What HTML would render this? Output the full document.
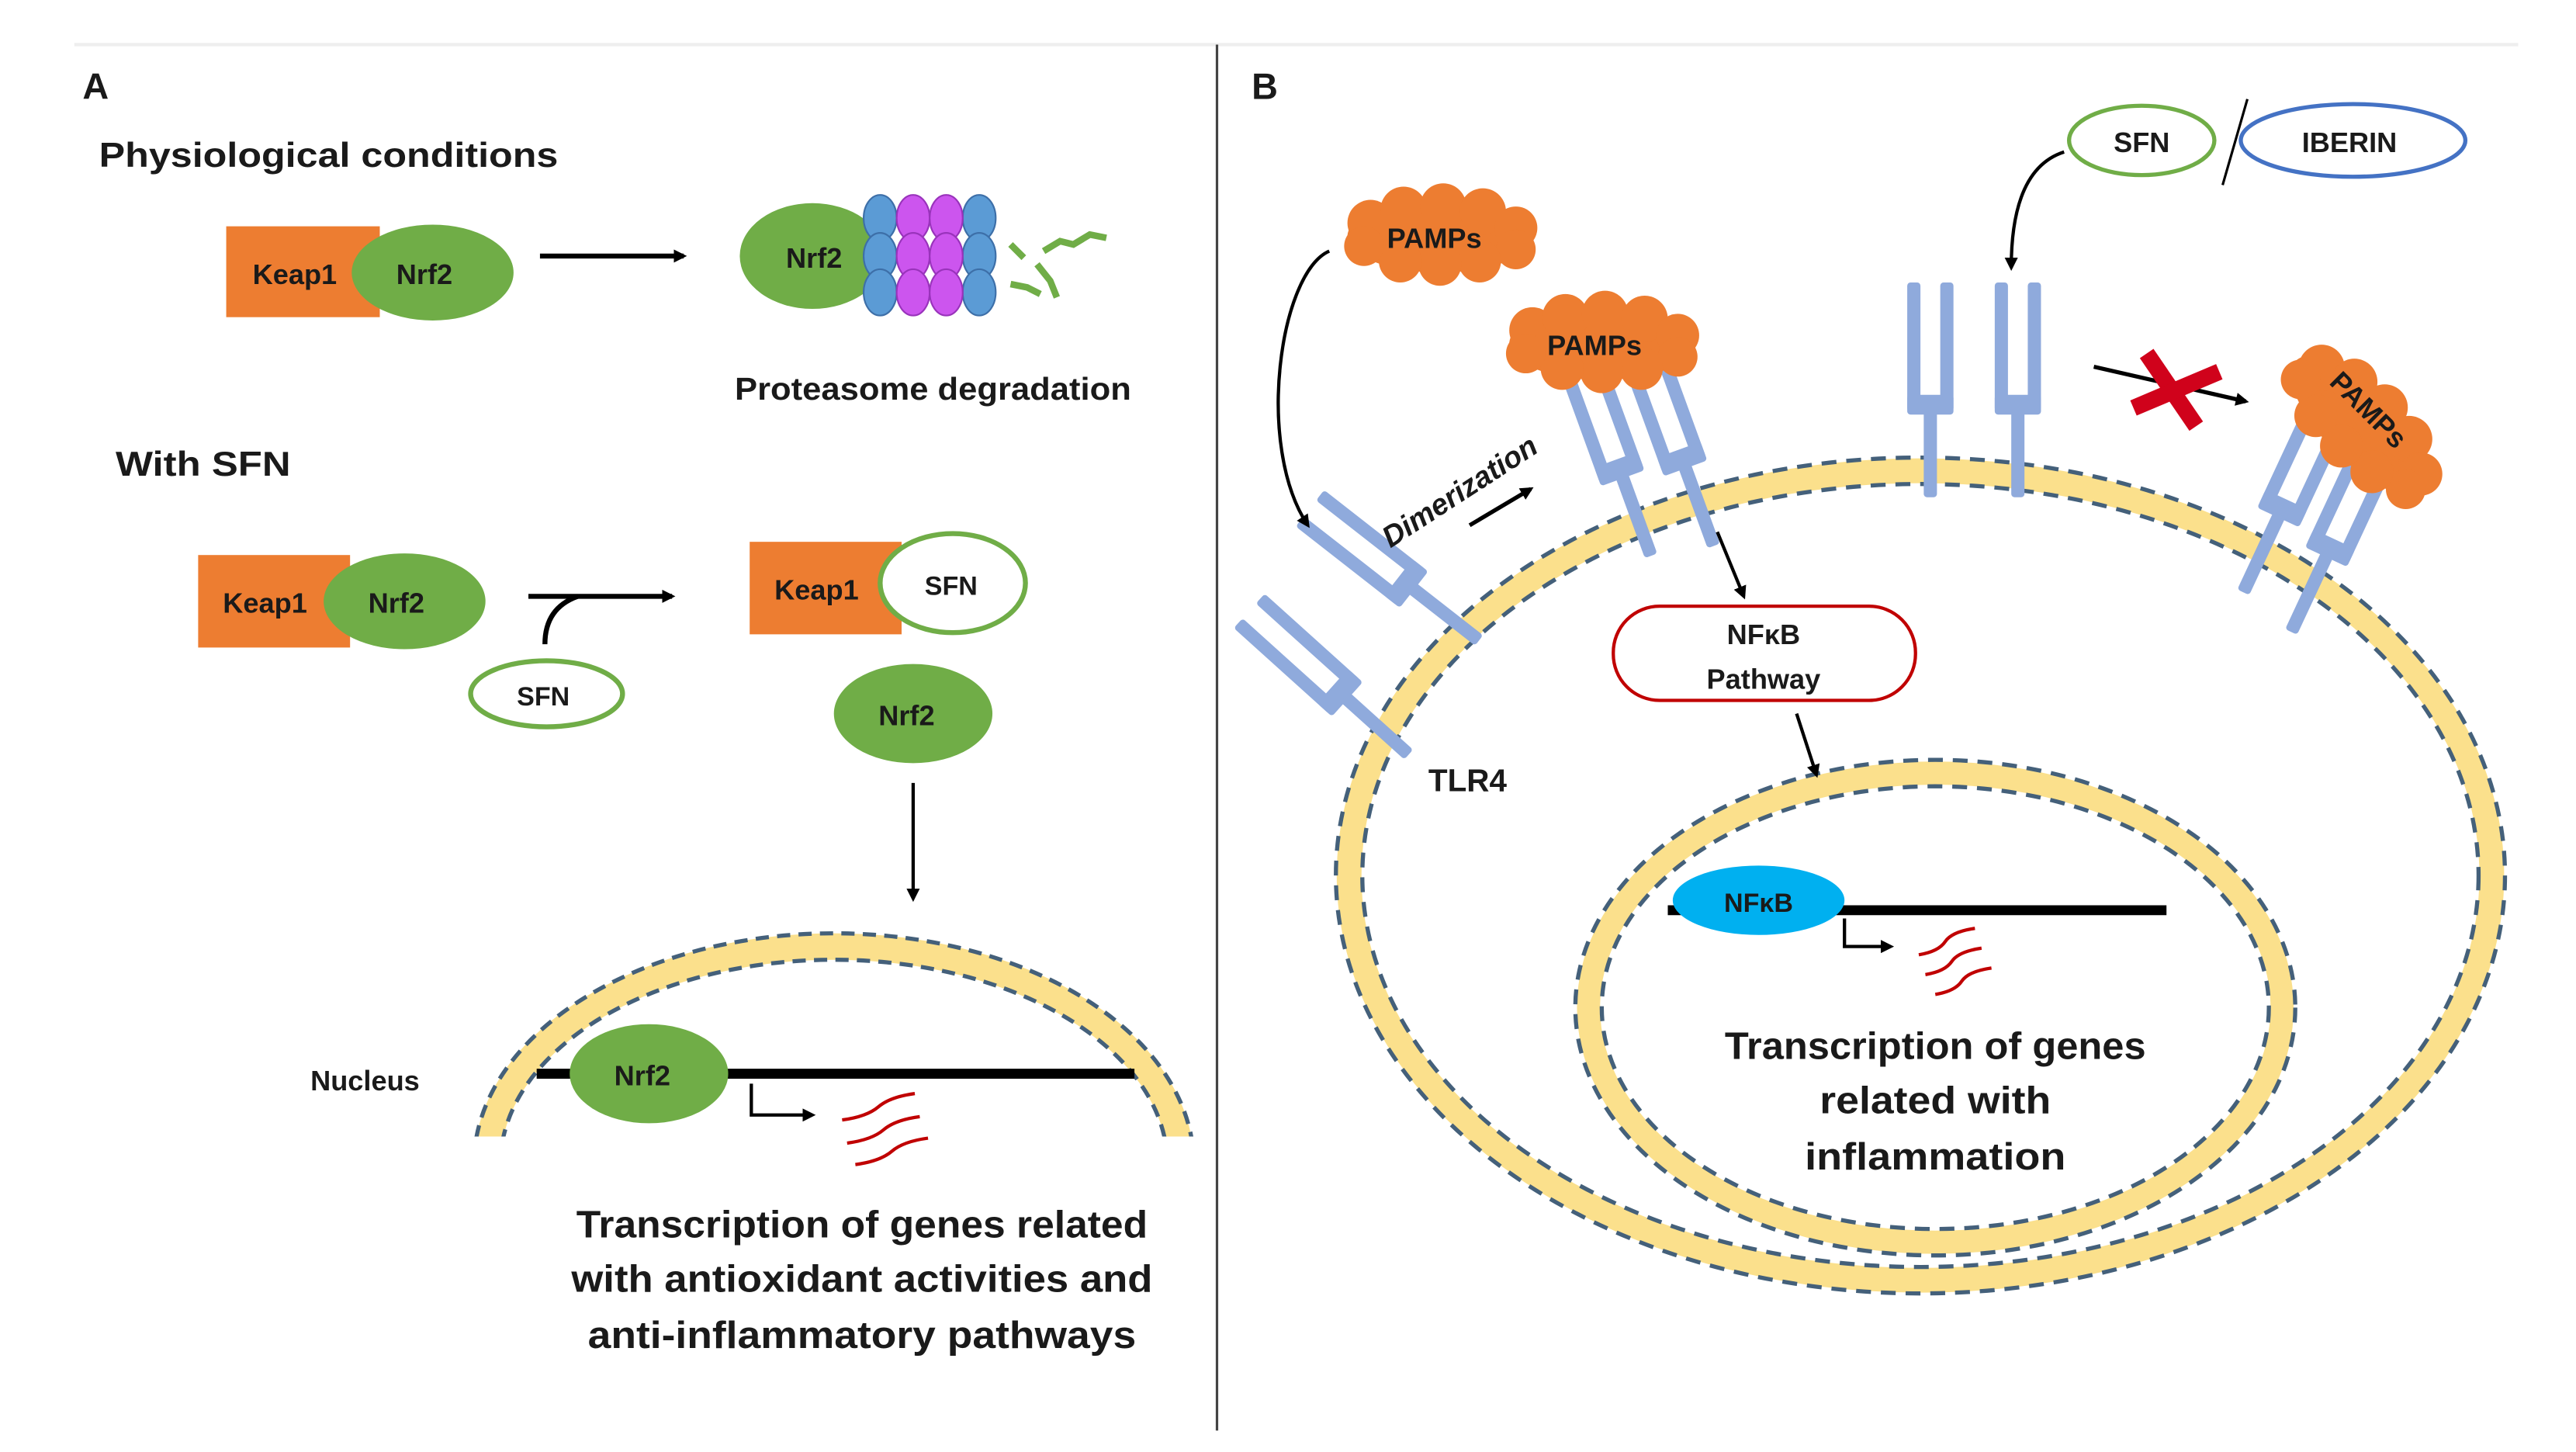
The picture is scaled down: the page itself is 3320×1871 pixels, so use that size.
<!DOCTYPE html>
<html><head><meta charset="utf-8"><style>
html,body{margin:0;padding:0;background:#fff;}
svg{display:block;}
text{font-family:"Liberation Sans",sans-serif;font-weight:bold;fill:#1a1a1a;}
</style></head><body>
<svg width="3320" height="1871" viewBox="0 0 1560 879" preserveAspectRatio="none" xmlns="http://www.w3.org/2000/svg">
<defs>
<marker id="ah" markerWidth="8" markerHeight="8" refX="6" refY="4" orient="auto" markerUnits="userSpaceOnUse"><path d="M0,0 L8,4 L0,8 Z" fill="#000"/></marker>
<g id="tlr" fill="#8FAADC">
<rect x="-14" y="-72" width="8" height="78" rx="2"/>
<rect x="6" y="-72" width="8" height="78" rx="2"/>
<rect x="-14" y="-4" width="28" height="12" rx="2"/>
<rect x="-4" y="6" width="8" height="52" rx="2"/>
</g>
<g id="cloud" fill="#ED7D31">
<ellipse cx="0" cy="0" rx="56" ry="22"/>
<circle cx="-42" cy="-8" r="14"/><circle cx="-22" cy="-16" r="14"/><circle cx="2" cy="-18" r="14"/><circle cx="26" cy="-15" r="14"/><circle cx="46" cy="-5" r="13"/>
<circle cx="46" cy="8" r="12"/><circle cx="24" cy="15" r="13"/><circle cx="0" cy="17" r="13"/><circle cx="-24" cy="15" r="13"/><circle cx="-46" cy="6" r="12"/>
</g>
<clipPath id="nucA"><rect x="0" y="0" width="800" height="688"/></clipPath>
</defs>
<rect width="1560" height="879" fill="#fff"/>
<line x1="45" y1="27" x2="1525" y2="27" stroke="#eee" stroke-width="2"/>
<line x1="737" y1="27" x2="737" y2="866" stroke="#444" stroke-width="1.5"/>

<!-- Panel A -->
<text x="50" y="60" font-size="22">A</text>
<text x="60" y="101" font-size="21" textLength="278" lengthAdjust="spacingAndGlyphs">Physiological conditions</text>
<rect x="137" y="137" width="93" height="55" fill="#ED7D31"/>
<ellipse cx="262" cy="165" rx="49" ry="29" fill="#70AD47"/>
<text x="153" y="172" font-size="17">Keap1</text>
<text x="240" y="172" font-size="17">Nrf2</text>
<line x1="327" y1="155" x2="414" y2="155" stroke="#000" stroke-width="3" marker-end="url(#ah)"/>
<ellipse cx="492" cy="155" rx="44" ry="32" fill="#70AD47"/>
<text x="476" y="162" font-size="17">Nrf2</text>
<g stroke="#3D6FA8" stroke-width="1">
<g fill="#5B9BD5"><ellipse cx="533" cy="132" rx="10" ry="14"/><ellipse cx="533" cy="155" rx="10" ry="14"/><ellipse cx="533" cy="177" rx="10" ry="14"/>
<ellipse cx="593" cy="132" rx="10" ry="14"/><ellipse cx="593" cy="155" rx="10" ry="14"/><ellipse cx="593" cy="177" rx="10" ry="14"/></g>
<g fill="#CC55EE" stroke="#9933BB"><ellipse cx="553" cy="132" rx="10" ry="14"/><ellipse cx="553" cy="155" rx="10" ry="14"/><ellipse cx="553" cy="177" rx="10" ry="14"/>
<ellipse cx="573" cy="132" rx="10" ry="14"/><ellipse cx="573" cy="155" rx="10" ry="14"/><ellipse cx="573" cy="177" rx="10" ry="14"/></g>
</g>
<g stroke="#70AD47" stroke-width="4" fill="none">
<path d="M632,152 l10,-6 l8,2 l10,-6 l10,2"/><path d="M612,148 l8,8"/><path d="M612,172 l10,2 l8,4"/><path d="M628,160 l8,10 l4,10"/>
</g>
<text x="445" y="242" font-size="19" textLength="240" lengthAdjust="spacingAndGlyphs">Proteasome degradation</text>

<text x="70" y="288" font-size="21" textLength="106" lengthAdjust="spacingAndGlyphs">With SFN</text>
<rect x="120" y="336" width="92" height="56" fill="#ED7D31"/>
<ellipse cx="245" cy="364" rx="49" ry="29" fill="#70AD47"/>
<text x="135" y="371" font-size="17">Keap1</text>
<text x="223" y="371" font-size="17">Nrf2</text>
<line x1="320" y1="361" x2="407" y2="361" stroke="#000" stroke-width="3" marker-end="url(#ah)"/>
<path d="M330,390 Q330,368 350,361" stroke="#000" stroke-width="3" fill="none"/>
<ellipse cx="331" cy="420" rx="46" ry="20" fill="#fff" stroke="#70AD47" stroke-width="3"/>
<text x="313" y="427" font-size="16">SFN</text>
<rect x="454" y="328" width="92" height="56" fill="#ED7D31"/>
<ellipse cx="577" cy="353" rx="44" ry="30" fill="#fff" stroke="#70AD47" stroke-width="3"/>
<text x="469" y="363" font-size="17">Keap1</text>
<text x="560" y="360" font-size="16">SFN</text>
<ellipse cx="553" cy="432" rx="48" ry="30" fill="#70AD47"/>
<text x="532" y="439" font-size="17">Nrf2</text>
<line x1="553" y1="474" x2="553" y2="544" stroke="#000" stroke-width="2" marker-end="url(#ah)"/>

<g clip-path="url(#nucA)" fill="none">
<ellipse cx="505" cy="705" rx="210" ry="132" stroke="#FBE08C" stroke-width="16"/>
<ellipse cx="505" cy="705" rx="218" ry="140" stroke="#44607A" stroke-width="2.5" stroke-dasharray="8 5"/>
<ellipse cx="505" cy="705" rx="202" ry="124" stroke="#44607A" stroke-width="2.5" stroke-dasharray="8 5"/>
</g>
<text x="188" y="660" font-size="17">Nucleus</text>
<line x1="325" y1="650" x2="687" y2="650" stroke="#000" stroke-width="6"/>
<ellipse cx="393" cy="650" rx="48" ry="30" fill="#70AD47"/>
<text x="372" y="657" font-size="17">Nrf2</text>
<path d="M455,656 V675 H492" stroke="#000" stroke-width="2" fill="none" marker-end="url(#ah)"/>
<g stroke="#C00000" stroke-width="2" fill="none">
<path d="M510,678 q15,-2 22,-8 t22,-8"/><path d="M513,692 q15,-2 22,-8 t22,-8"/><path d="M518,705 q15,-2 22,-8 t22,-8"/>
</g>
<g font-size="23" text-anchor="middle">
<text x="522" y="749" textLength="346" lengthAdjust="spacingAndGlyphs">Transcription of genes related</text>
<text x="522" y="782" textLength="352" lengthAdjust="spacingAndGlyphs">with antioxidant activities and</text>
<text x="522" y="816" textLength="332" lengthAdjust="spacingAndGlyphs">anti-inflammatory pathways</text>
</g>

<!-- Panel B -->
<text x="758" y="60" font-size="22">B</text>
<!-- cell membrane -->
<g fill="none">
<ellipse cx="1163" cy="530" rx="346" ry="245" stroke="#FBE08C" stroke-width="15"/>
<ellipse cx="1163" cy="530" rx="354" ry="253" stroke="#44607A" stroke-width="2.5" stroke-dasharray="9 6"/>
<ellipse cx="1163" cy="530" rx="338" ry="237" stroke="#44607A" stroke-width="2.5" stroke-dasharray="9 6"/>
<ellipse cx="1172" cy="610" rx="210" ry="142" stroke="#FBE08C" stroke-width="14"/>
<ellipse cx="1172" cy="610" rx="218" ry="150" stroke="#44607A" stroke-width="2.5" stroke-dasharray="9 6"/>
<ellipse cx="1172" cy="610" rx="202" ry="134" stroke="#44607A" stroke-width="2.5" stroke-dasharray="9 6"/>
</g>

<!-- receptors -->
<use href="#tlr" transform="translate(1169,243)"/>
<use href="#tlr" transform="translate(1222,243)"/>
<use href="#tlr" transform="translate(980,282) rotate(-20)"/>
<use href="#tlr" transform="translate(1018,276) rotate(-20)"/>
<use href="#tlr" transform="translate(850,352) rotate(-52)"/>
<use href="#tlr" transform="translate(810,418) rotate(-48)"/>
<use href="#tlr" transform="translate(1383,306) rotate(25)"/>
<use href="#tlr" transform="translate(1412,330) rotate(25)"/>

<!-- PAMPs -->
<use href="#cloud" transform="translate(872,143)"/>
<use href="#cloud" transform="translate(970,208)"/>
<use href="#cloud" transform="translate(1430,258) rotate(45)"/>
<text x="840" y="150" font-size="17">PAMPs</text>
<text x="937" y="215" font-size="17">PAMPs</text>
<text transform="translate(1410,232) rotate(45)" font-size="17">PAMPs</text>

<path d="M805,152 C775,165 760,270 792,318" stroke="#000" stroke-width="2" fill="none" marker-end="url(#ah)"/>
<text transform="translate(842,332) rotate(-33)" font-size="18" font-style="italic">Dimerization</text>
<line x1="890" y1="318" x2="927" y2="296" stroke="#000" stroke-width="2.5" marker-end="url(#ah)"/>
<text x="865" y="479" font-size="19">TLR4</text>

<ellipse cx="1297" cy="85" rx="44" ry="21" fill="#fff" stroke="#70AD47" stroke-width="2.5"/>
<text x="1280" y="92" font-size="17">SFN</text>
<line x1="1361" y1="60" x2="1346" y2="112" stroke="#000" stroke-width="1.5"/>
<ellipse cx="1425" cy="85" rx="68" ry="22" fill="#fff" stroke="#4472C4" stroke-width="2.5"/>
<text x="1394" y="92" font-size="17">IBERIN</text>
<path d="M1250,92 C1225,100 1218,130 1218,162" stroke="#000" stroke-width="2" fill="none" marker-end="url(#ah)"/>

<line x1="1268" y1="222" x2="1360" y2="243" stroke="#000" stroke-width="2.5" marker-end="url(#ah)"/>
<g stroke="#D0021B" stroke-width="10">
<line x1="1300" y1="214" x2="1330" y2="258"/><line x1="1292" y1="247" x2="1344" y2="225"/>
</g>

<line x1="1040" y1="322" x2="1056" y2="361" stroke="#000" stroke-width="2" marker-end="url(#ah)"/>
<rect x="977" y="367" width="183" height="57" rx="28" fill="#fff" stroke="#C00000" stroke-width="2"/>
<text x="1068" y="390" font-size="17" text-anchor="middle">NFκB</text>
<text x="1068" y="417" font-size="17" text-anchor="middle">Pathway</text>
<line x1="1088" y1="432" x2="1100" y2="469" stroke="#000" stroke-width="2" marker-end="url(#ah)"/>

<line x1="1010" y1="551" x2="1312" y2="551" stroke="#000" stroke-width="6"/>
<ellipse cx="1065" cy="545" rx="52" ry="21" fill="#00B0F0"/>
<text x="1065" y="552" font-size="16" text-anchor="middle" fill="#1a2a4a">NFκB</text>
<path d="M1117,556 V573 H1145" stroke="#000" stroke-width="2" fill="none" marker-end="url(#ah)"/>
<g stroke="#C00000" stroke-width="2" fill="none">
<path d="M1162,578 q12,-2 16,-8 t18,-8"/><path d="M1166,590 q12,-2 16,-8 t18,-8"/><path d="M1172,602 q12,-2 16,-8 t18,-8"/>
</g>
<g font-size="23" text-anchor="middle">
<text x="1172" y="641" textLength="255" lengthAdjust="spacingAndGlyphs">Transcription of genes</text>
<text x="1172" y="674" textLength="140" lengthAdjust="spacingAndGlyphs">related with</text>
<text x="1172" y="708" textLength="158" lengthAdjust="spacingAndGlyphs">inflammation</text>
</g>
</svg>
</body></html>
